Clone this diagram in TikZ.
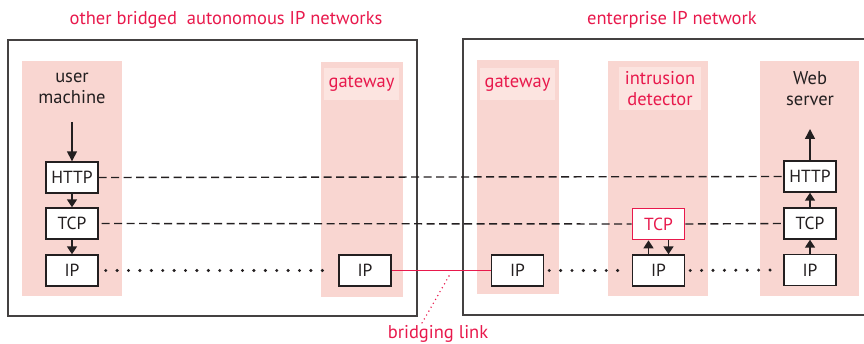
\documentclass[tikz,border=0pt]{standalone}
\usepackage{fontspec}
\setmainfont{PT Sans}
\usetikzlibrary{arrows.meta}
\definecolor{colbg}{HTML}{F9D6D1}
\definecolor{lblbg}{HTML}{FCE4E0}
\definecolor{accent}{HTML}{E8194C}
\definecolor{ink}{HTML}{231F20}
\tikzset{
  column/.style={fill=colbg,draw=none,inner sep=0pt},
  frame/.style={draw=ink!85,line width=1.5pt},
  layer/.style={draw=ink,line width=1.4pt,fill=white,minimum width=52pt,minimum height=31pt,inner sep=0pt,font=\fontsize{17.5}{17.5}\selectfont,text=ink},
  redlayer/.style={layer,draw=accent,text=accent,line width=1.7pt},
  lbl/.style={font=\fontsize{18.5}{21}\selectfont,text=ink,align=center,inner sep=1pt},
  redlbl/.style={lbl,text=accent,fill=lblbg,inner sep=3pt},
  title/.style={font=\fontsize{18.5}{21}\selectfont,text=accent},
  dashedline/.style={draw=ink,line width=1.4pt,dash pattern=on 8pt off 4.5pt},
  dotline/.style={draw=ink,line width=3.4pt,line cap=round,dash pattern=on 0pt off 11.4pt},
  arr/.style={draw=ink,line width=1.5pt,-{Triangle[length=10pt,width=10pt]}},
  sarr/.style={draw=ink,line width=1.5pt,-{Triangle[length=8pt,width=10pt]}}
}
\begin{document}
\begin{tikzpicture}[x=1pt,y=-1pt]
\useasboundingbox (0,0) rectangle (864,344);
\begin{scope}
\clip (0,0) rectangle (864,344);
% frames
\draw[frame] (8,40) rectangle (417,316);
\draw[frame] (463,39) rectangle (880,315);
\end{scope}
% titles
\node[title] (t1) at (226,20) {other bridged\ \ autonomous IP networks};
\node[title] (t2) at (672,20) {enterprise IP network};
% columns
\node[column,minimum width=100pt,minimum height=235pt] (c1) at (72,178.5) {};
\node[column,minimum width=82pt,minimum height=235pt] (c2) at (362,179.5) {};
\node[column,minimum width=82pt,minimum height=234pt] (c3) at (518,177) {};
\node[column,minimum width=100pt,minimum height=235pt] (c4) at (658,178.5) {};
\node[column,minimum width=99pt,minimum height=235pt] (c5) at (809.5,178.5) {};
% column labels
\node[lbl] (l1) at (72,88.5) {user\\machine};
\node[redlbl,minimum width=75pt,minimum height=32pt] (l2) at (361.5,84) {gateway};
\node[redlbl,minimum width=75pt,minimum height=32pt] (l3) at (517.5,84) {gateway};
\node[redlbl,minimum width=82pt,minimum height=43pt,inner sep=1pt] (l4) at (660,88.5) {intrusion\\detector};
\node[lbl] (l5) at (810,88.5) {Web\\server};
% layer boxes
\node[layer] (h1) at (72,177.5) {HTTP};
\node[layer] (tc1) at (72,223.5) {TCP};
\node[layer] (ip1) at (72,270.5) {IP};
\node[layer] (ip2) at (365,270.5) {IP};
\node[layer] (ip3) at (517.5,270.5) {IP};
\node[redlayer] (tc4) at (658.5,224) {TCP};
\node[layer] (ip4) at (658.5,270.5) {IP};
\node[layer] (h5) at (810,176.5) {HTTP};
\node[layer] (tc5) at (810,223.5) {TCP};
\node[layer] (ip5) at (810,270) {IP};
% peer lines
\draw[dashedline] (h1.east) -- (h5.west);
\draw[dashedline] ([xshift=3pt]tc1.east) -- (tc4.west);
\draw[dashedline] (tc4.east) -- (tc5.west);
\draw[dotline] ([xshift=7pt]ip1.east) -- ([xshift=-6pt]ip2.west);
\draw[dotline] ([xshift=5pt]ip3.east) -- ([xshift=-6pt]ip4.west);
\draw[dotline] ([xshift=5pt]ip4.east) -- ([xshift=-6pt]ip5.west);
% bridging link
\draw[accent,line width=1.8pt] (ip2.east) -- (ip3.west);
\node[title] (bl) at (438,334) {bridging link};
\coordinate (bltop) at (449,276);
\draw[accent,line width=1.6pt,line cap=round,dash pattern=on 0pt off 4.5pt] (bltop) -- (422,323);
% vertical arrows
\coordinate (uin) at (72,122);
\draw[arr] (uin) -- (h1.north);
\draw[sarr] (h1.south) -- (tc1.north);
\draw[sarr] (tc1.south) -- (ip1.north);
\coordinate (wout) at (810,129);
\draw[arr] (h5.north) -- (wout);
\draw[sarr] (tc5.north) -- (h5.south);
\draw[sarr] (ip5.north) -- (tc5.south);
\draw[sarr] ([xshift=-10pt]ip4.north) -- ([xshift=-10pt]tc4.south);
\draw[sarr] ([xshift=10pt]tc4.south) -- ([xshift=10pt]ip4.north);
\end{tikzpicture}
\end{document}
